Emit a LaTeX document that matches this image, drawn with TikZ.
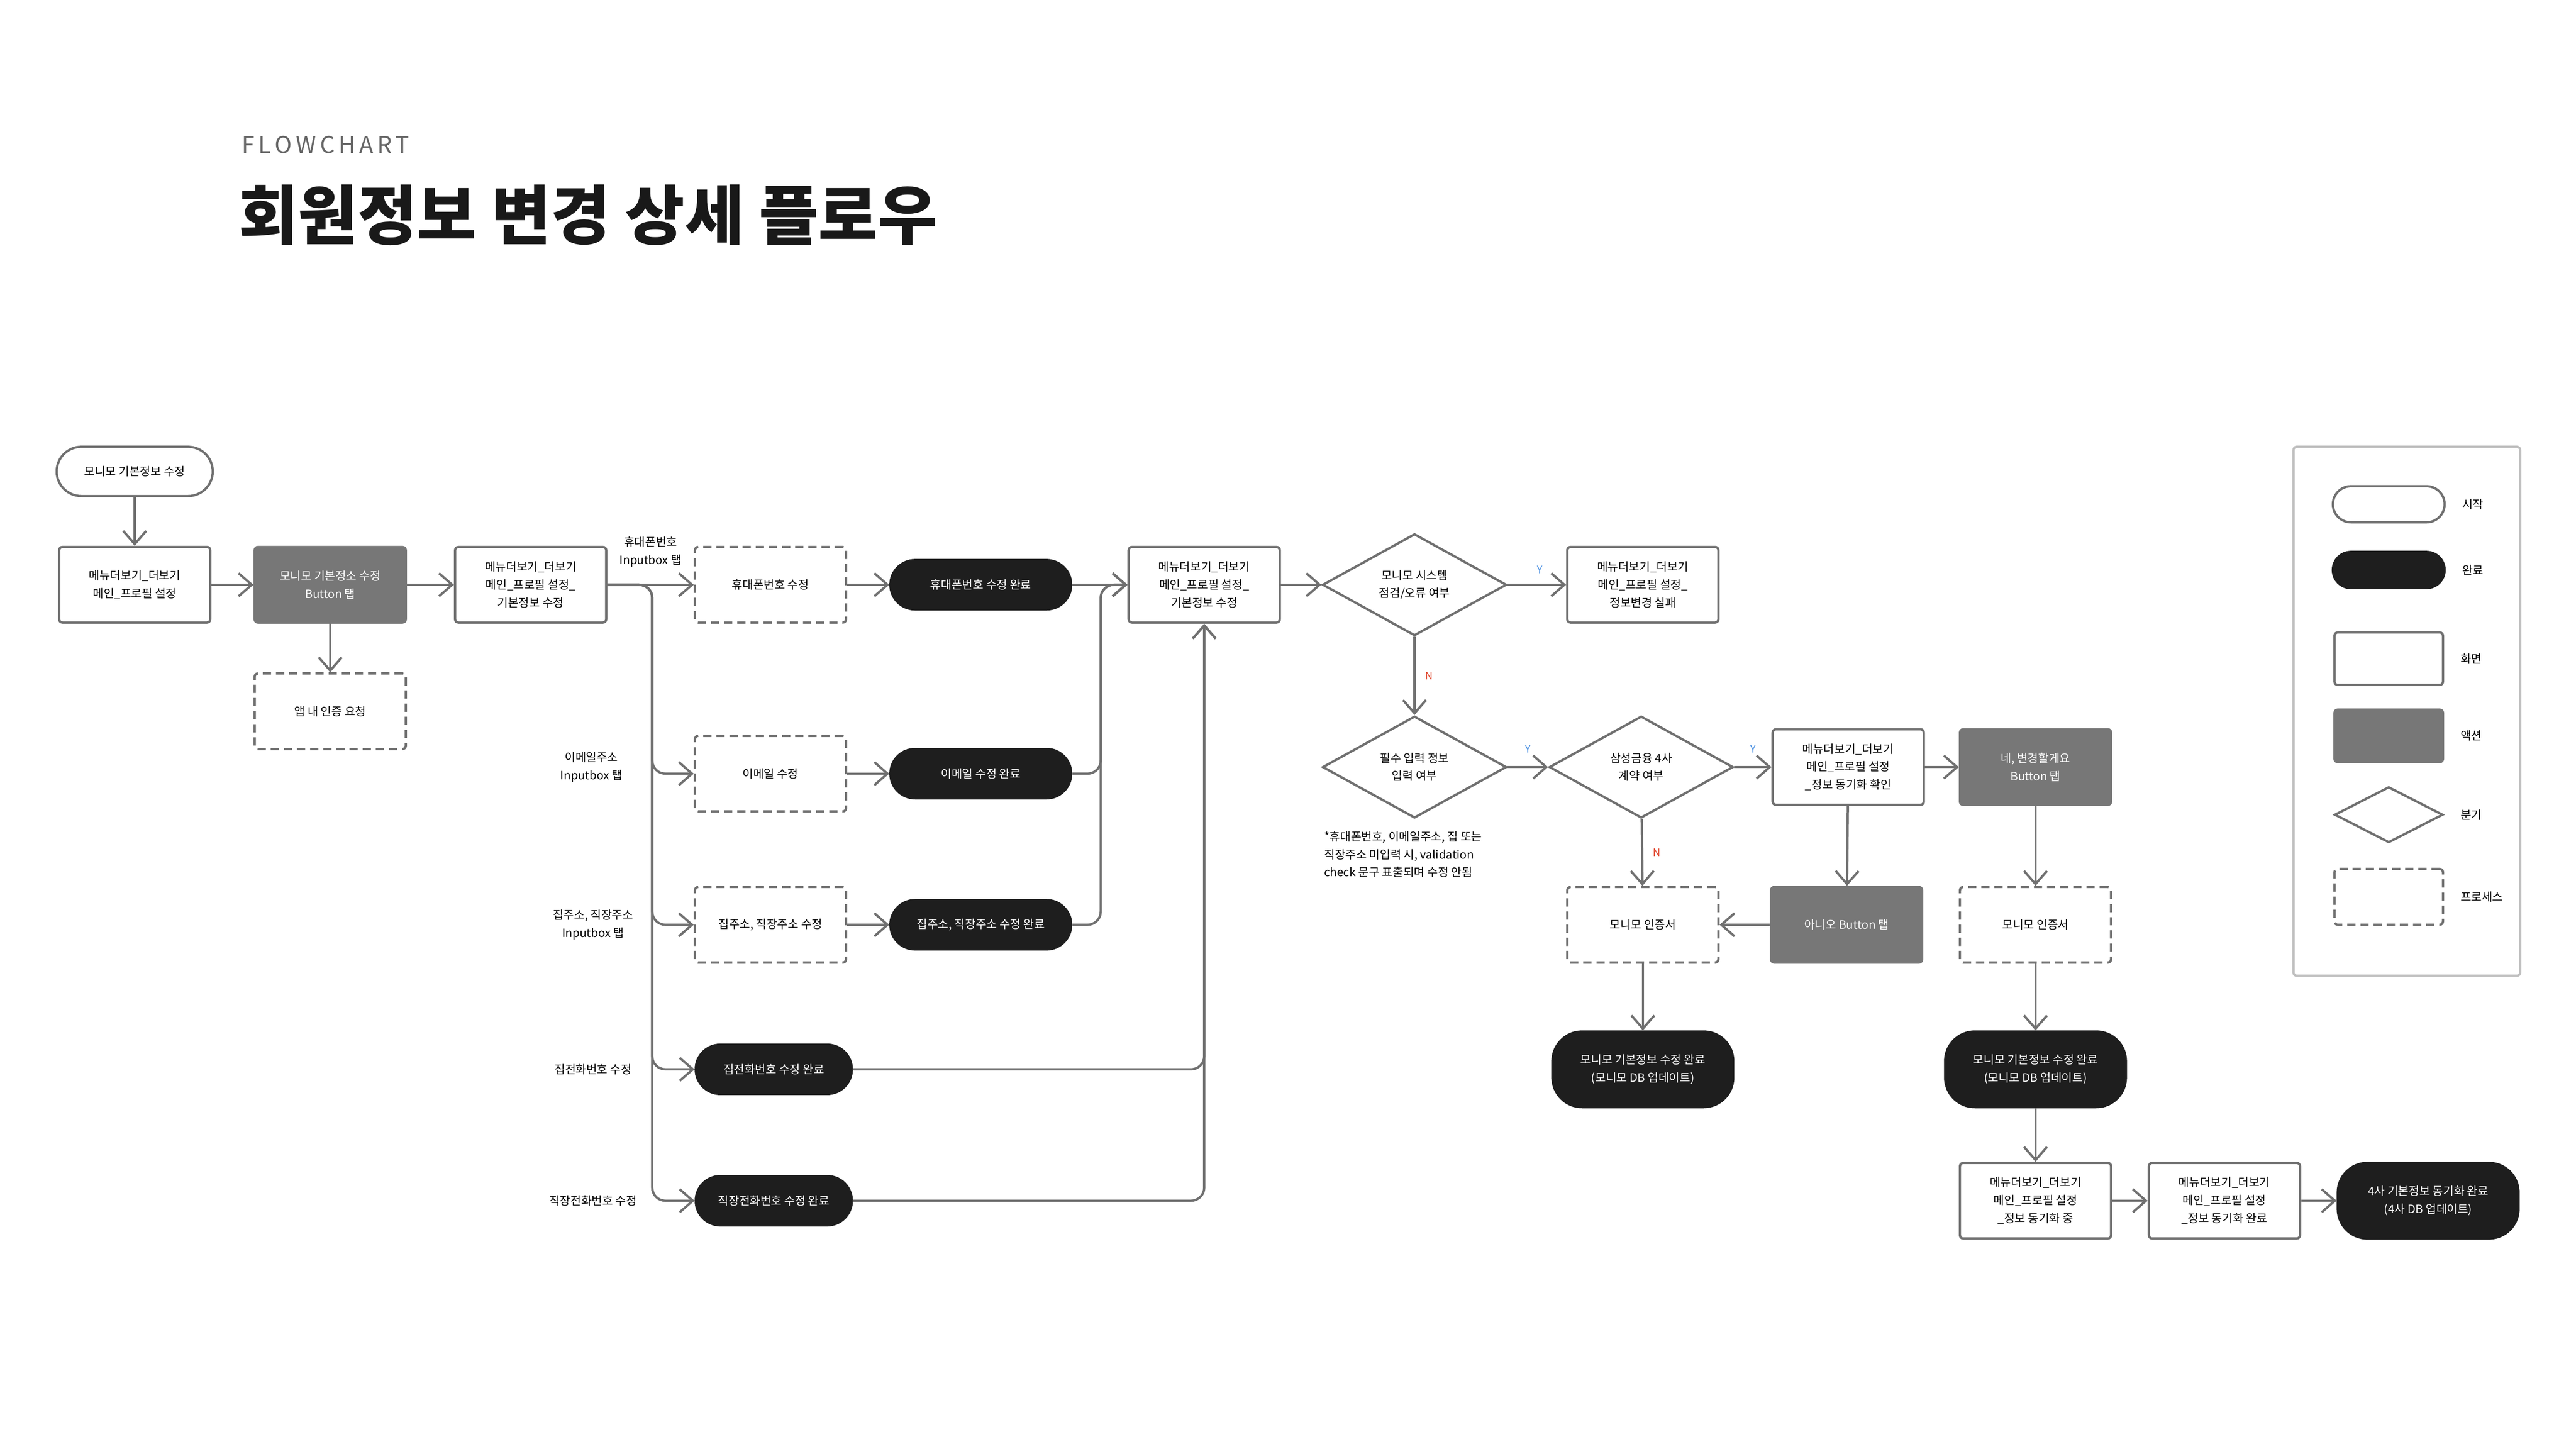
\documentclass[tikz,border=0pt]{standalone}
\usepackage{fontspec}
\setmainfont{Noto Sans CJK KR}
\usetikzlibrary{arrows.meta,shapes.geometric}
\definecolor{lineg}{HTML}{707070}
\definecolor{actg}{HTML}{777777}
\definecolor{doneb}{HTML}{1E1E1E}
\definecolor{ylab}{HTML}{4A90E2}
\definecolor{nlab}{HTML}{E0442B}
\tikzset{
  txt/.style={font=\fontsize{20}{31}\selectfont, align=center, inner sep=0pt},
  box/.style={txt, draw=lineg, line width=4pt, minimum width=92mm, minimum height=46mm, rounded corners=2mm},
  screen/.style={box, fill=white},
  action/.style={box, fill=actg, draw=actg, text=white},
  proc/.style={box, dashed, dash pattern=on 5mm off 3mm},
  start/.style={box, minimum width=95mm, minimum height=30mm, rounded corners=15mm},
  done/.style={box, fill=doneb, draw=doneb, text=white, minimum width=110mm, minimum height=30mm, rounded corners=15mm},
  donebig/.style={done, minimum height=46mm, rounded corners=18mm},
  branch/.style={txt, diamond, draw=lineg, line width=4pt, minimum width=112mm, minimum height=62mm, shape aspect=1.8, inner sep=0pt},
  arr/.style={draw=lineg, line width=4pt, -{Straight Barb[length=8mm, width=14mm, line width=4pt]}},
  conn/.style={draw=lineg, line width=4pt},
  yn/.style={font=\fontsize{18}{20}\selectfont, inner sep=0pt}
}
\begin{document}
\begin{tikzpicture}[x=1mm, y=-1mm]
\useasboundingbox (0,0) rectangle (1568,882);
% title
\node[anchor=west, text=black!60, font=\fontsize{40}{40}\selectfont] (cap) at (146,88) {F\,L\,O\,W\,C\,H\,A\,R\,T};
\node[anchor=west, text=black!90, font=\fontsize{112}{112}\selectfont\bfseries] (title) at (144,131) {회원정보 변경 상세 플로우};

% main row
\node[start] (st) at (82,287) {모니모 기본정보 수정};
\node[screen] (m1) at (82,356) {메뉴더보기\_더보기\\메인\_프로필 설정};
\node[action] (b1) at (201,356) {모니모 기본정소 수정\\Button 탭};
\node[proc] (auth) at (201,433) {앱 내 인증 요청};
\node[screen] (m2) at (323,356) {메뉴더보기\_더보기\\메인\_프로필 설정\_\\기본정보 수정};

\node[proc] (p1) at (469,356) {휴대폰번호 수정};
\node[proc] (p2) at (469,471) {이메일 수정};
\node[proc] (p3) at (469,563) {집주소, 직장주소 수정};
\node[done] (d1) at (597,356) {휴대폰번호 수정 완료};
\node[done] (d2) at (597,471) {이메일 수정 완료};
\node[done] (d3) at (597,563) {집주소, 직장주소 수정 완료};
\node[done, minimum width=95mm] (d4) at (471,651) {집전화번호 수정 완료};
\node[done, minimum width=95mm] (d5) at (471,731) {직장전화번호 수정 완료};

\node[txt] (l1) at (396,336) {휴대폰번호\\Inputbox 탭};
\node[txt] (l2) at (360,467) {이메일주소\\Inputbox 탭};
\node[txt] (l3) at (361,563) {집주소, 직장주소\\Inputbox 탭};
\node[txt] (l4) at (361,651) {집전화번호 수정};
\node[txt] (l5) at (361,731) {직장전화번호 수정};

\node[screen] (m3) at (733,356) {메뉴더보기\_더보기\\메인\_프로필 설정\_\\기본정보 수정};
\node[branch] (q1) at (861,356) {모니모 시스템\\점검/오류 여부};
\node[screen] (fail) at (1000,356) {메뉴더보기\_더보기\\메인\_프로필 설정\_\\정보변경 실패};
\node[branch] (q2) at (861,467) {필수 입력 정보\\입력 여부};
\node[txt, anchor=north west, align=left] (note) at (806,506) {*휴대폰번호, 이메일주소, 집 또는\\직장주소 미입력 시, validation\\check 문구 표출되며 수정 안됨};
\node[branch] (q3) at (999,467) {삼성금융 4사\\계약 여부};
\node[screen] (m4) at (1125,467) {메뉴더보기\_더보기\\메인\_프로필 설정\\\_정보 동기화 확인};
\node[action] (b2) at (1239,467) {네, 변경할게요\\Button 탭};
\node[action] (no) at (1124,563) {아니오 Button 탭};
\node[proc] (c1) at (1000,563) {모니모 인증서};
\node[proc] (c2) at (1239,563) {모니모 인증서};
\node[donebig] (f1) at (1000,651) {모니모 기본정보 수정 완료\\(모니모 DB 업데이트)};
\node[donebig] (f2) at (1239,651) {모니모 기본정보 수정 완료\\(모니모 DB 업데이트)};
\node[screen] (s1) at (1239,731) {메뉴더보기\_더보기\\메인\_프로필 설정\\\_정보 동기화 중};
\node[screen] (s2) at (1354,731) {메뉴더보기\_더보기\\메인\_프로필 설정\\\_정보 동기화 완료};
\node[donebig] (f3) at (1478,731) {4사 기본정보 동기화 완료\\(4사 DB 업데이트)};

% connectors
\coordinate (trunk) at (397,356);
\coordinate (join) at (670,356);
\draw[arr] (st) -- (m1);
\draw[arr] (m1) -- (b1);
\draw[arr] (b1) -- (auth);
\draw[arr] (b1) -- (m2);
\draw[arr] (m2) -- (p1);
\foreach \t in {p2,p3,d4,d5}
  \draw[arr, rounded corners=8mm] (m2.east) -- (trunk) |- (\t.west);
\draw[arr] (p1) -- (d1);
\draw[arr] (p2) -- (d2);
\draw[arr] (p3) -- (d3);
\draw[arr] (d1) -- (m3);
\foreach \s in {d2,d3}
  \draw[arr, rounded corners=8mm] (\s.east) -- (\s.east -| join) |- (m3.west);
\foreach \s in {d4,d5}
  \draw[arr, rounded corners=8mm] (\s.east) -| (m3.south);
\draw[arr] (m3) -- (q1);
\draw[arr] (q1) -- (fail) node[yn, text=ylab, pos=0.55, above=6mm] {Y};
\draw[arr] (q1) -- (q2) node[yn, text=nlab, midway, right=6mm] {N};
\draw[arr] (q2) -- (q3) node[yn, text=ylab, pos=0.5, above=8mm] {Y};
\draw[arr] (q3) -- (m4) node[yn, text=ylab, pos=0.5, above=8mm] {Y};
\draw[arr] (q3) -- (c1) node[yn, text=nlab, midway, right=6mm] {N};
\draw[arr] (m4) -- (b2);
\draw[arr] (m4) -- (no);
\draw[arr] (no) -- (c1);
\draw[arr] (b2) -- (c2);
\draw[arr] (c1) -- (f1);
\draw[arr] (c2) -- (f2);
\draw[arr] (f2) -- (s1);
\draw[arr] (s1) -- (s2);
\draw[arr] (s2) -- (f3);

% legend
\node[draw=black!25, line width=4pt, rounded corners=2mm, minimum width=138mm, minimum height=322mm] (leg) at (1465,433) {};
\node[start, minimum width=68mm, minimum height=22mm, rounded corners=11mm] (lg1) at (1454,307) {};
\node[done, minimum width=68mm, minimum height=22mm, rounded corners=11mm] (lg2) at (1454,347) {};
\node[screen, minimum width=66mm, minimum height=32mm] (lg3) at (1454,401) {};
\node[action, minimum width=66mm, minimum height=32mm] (lg4) at (1454,448) {};
\node[branch, minimum width=66mm, minimum height=34mm, shape aspect=1.9] (lg5) at (1454,496) {};
\node[proc, minimum width=66mm, minimum height=34mm] (lg6) at (1454,546) {};
\foreach \n/\t in {lg1/시작,lg2/완료,lg3/화면,lg4/액션,lg5/분기,lg6/프로세스}
  \node[txt, anchor=west] at ([xshift=10mm]\n.east) {\t};
\end{tikzpicture}
\end{document}
